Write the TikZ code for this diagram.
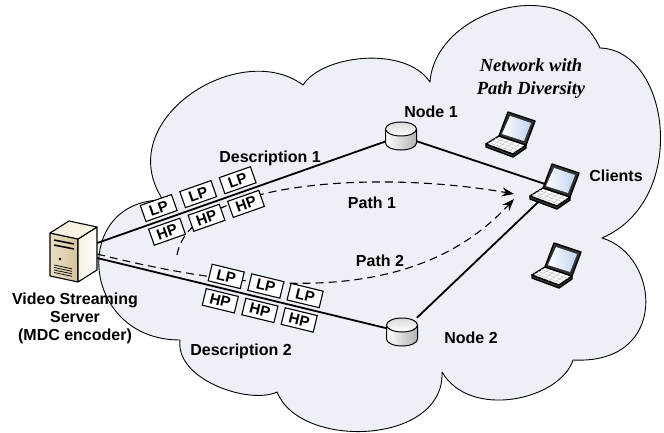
\documentclass[tikz,border=0pt]{standalone}
\usepackage{fontspec}
\setmainfont{Liberation Sans}
\newfontfamily\netfont{Liberation Serif}
\usetikzlibrary{positioning,arrows.meta}
\definecolor{nube}{HTML}{EDF0F6}
\definecolor{pantalla}{HTML}{BFD2F0}
\definecolor{beige}{HTML}{D6C49A}
\definecolor{crema}{HTML}{F7F2E2}

\tikzset{
  portatil/.pic={
    \draw[line width=1.4pt,line join=round,fill=black!75] (-24,9) -- (3,19) -- (16,10) -- (16,13) -- (3,22) -- (-24,12) -- cycle;
    \draw[line width=1.4pt,line join=round,fill=white] (-11,1) -- (16,10) -- (3,19) -- (-24,9) -- cycle;
    \foreach \t in {.3,.55,.8}
      \draw[gray!55,line width=.4pt] ({-11-13*\t},{1+8*\t}) -- ({16-13*\t},{10+9*\t});
    \foreach \s in {.2,.4,.6,.8}
      \draw[gray!55,line width=.4pt] ({-11+27*\s},{1+9*\s}) -- ({-24+27*\s},{9+10*\s});
    \draw[line width=1.4pt,line join=round,fill=black!80] (-11,1) -- (16,10) -- (25,-14) -- (-2,-23) -- cycle;
    \shade[left color=white,right color=pantalla] (-8,-1) -- (14,6) -- (21,-12) -- (0,-19) -- cycle;
  },
  servidor/.pic={
    \draw[line width=1.1pt,line join=round,left color=beige!55,right color=beige] (-25,-18) -- (3,-12) -- (3,31) -- (-25,25) -- cycle;
    \draw[line width=1.1pt,line join=round,left color=crema,right color=white] (3,-12) -- (22,-24) -- (22,19) -- (3,31) -- cycle;
    \draw[line width=1.1pt,line join=round,fill=crema] (-25,-18) -- (-6,-30) -- (22,-24) -- (3,-12) -- cycle;
    \draw[line width=1.5pt] (-21,-11) -- (-1,-7) (-21,-6) -- (-1,-2);
    \fill (-15,8) circle (1.3);
    \foreach \v in {14,16.5,19,21.5}
      \draw[line width=.7pt] (-21,\v) -- (-3,\v+3.8);
  },
  cilindro/.pic={
    \draw[line width=1pt,left color=white,right color=gray!60]
      (-15.5,-7) -- (-15.5,7) arc[start angle=180,end angle=360,x radius=15.5pt,y radius=7pt] -- (15.5,-7);
    \draw[line width=1pt,top color=gray!30,bottom color=white] (0,-7) ellipse [x radius=15.5pt,y radius=7pt];
  }
}

\begin{document}
\begin{tikzpicture}[x=1pt,y=-1pt,font=\bfseries\fontsize{16}{18}\selectfont,
    pkt/.style={draw,fill=white,line width=1.1pt,sloped,minimum width=33pt,minimum height=17pt,inner sep=0pt,font=\bfseries\fontsize{15}{15}\selectfont},
    enlace/.style={line width=1.8pt},
    ruta/.style={line width=1.1pt,dash pattern=on 8pt off 5pt,-{Stealth[length=12pt,width=9pt]}},
    nodo/.style={minimum width=31pt,minimum height=28pt,inner sep=0pt},
    equipo/.style={minimum width=48pt,minimum height=46pt,inner sep=0pt}]
  \useasboundingbox (0,0) rectangle (664,433);
  \draw[fill=nube,line width=.9pt,line join=round]
    (163,200) .. controls (110,120) and (240,38) .. (303,85)
    .. controls (322,55) and (405,45) .. (430,82)
    .. controls (435,10) and (565,-30) .. (600,48)
    .. controls (670,50) and (690,200) .. (602,238)
    .. controls (660,255) and (670,365) .. (573,360)
    .. controls (560,400) and (470,420) .. (442,372)
    .. controls (445,445) and (300,450) .. (277,392)
    .. controls (250,405) and (175,380) .. (180,340)
    .. controls (80,340) and (70,200) .. (163,200) -- cycle;

  \node[minimum width=44pt,minimum height=62pt,inner sep=0pt] (srv) at (75,251) {};
  \node[nodo] (n1) at (401,136) {};
  \node[nodo] (n2) at (402,332) {};
  \node[equipo] (cl) at (554,187) {};
  \node[equipo] (pc1) at (510,135) {};
  \node[equipo] (pc2) at (556,266) {};
  \coordinate (p1) at (177,255);
  \coordinate (t1) at (514,194);
  \coordinate (t2) at (514,199);

  \draw[ruta] (p1) .. controls (190,180) and (380,170) .. (t1);
  \draw[ruta] ([yshift=-3pt]srv.east) .. controls (300,305) and (430,290) .. (t2);

  \draw[enlace] ([yshift=8pt]srv.east) -- (n1) -- (cl.center);
  \draw[enlace] ([yshift=-7pt]srv.east) -- (n2) -- (cl.center);
  \foreach \q [count=\i] in {.228,.365,.502}
    \path ([yshift=8pt]srv.east) -- (n1)
      node[pkt,pos=\q,above=3.5pt] (lpa\i) {LP} node[pkt,pos=\q,below=3.5pt] (hpa\i) {HP};
  \foreach \q [count=\i] in {.436,.573,.709}
    \path ([yshift=-7pt]srv.east) -- (n2)
      node[pkt,pos=\q,above=3.5pt] (lpb\i) {LP} node[pkt,pos=\q,below=3.5pt] (hpb\i) {HP};

  \pic at (srv) {servidor};
  \pic at (n1) {cilindro};
  \pic at (n2) {cilindro};
  \foreach \p in {cl,pc1,pc2}
    \pic at (\p) {portatil};

  \node[below=11pt of srv,align=center,inner sep=0pt] (cap) {Video Streaming\\Server\\(MDC encoder)};
  \node[anchor=base] (d1) at (270,163) {Description 1};
  \node[anchor=base] (d2) at (241,355) {Description 2};
  \node[anchor=base] (r1) at (372,208) {Path 1};
  \node[anchor=base] (r2) at (380,266) {Path 2};
  \node[anchor=base] (e1) at (431,118) {Node 1};
  \node[anchor=base] (e2) at (471,343) {Node 2};
  \node[anchor=base] (ec) at (616,181) {Clients};
  \node[align=center,font=\netfont\bfseries\itshape\fontsize{18.5}{23}\selectfont] (red) at (531,79) {Network with\\Path Diversity};
\end{tikzpicture}
\end{document}
